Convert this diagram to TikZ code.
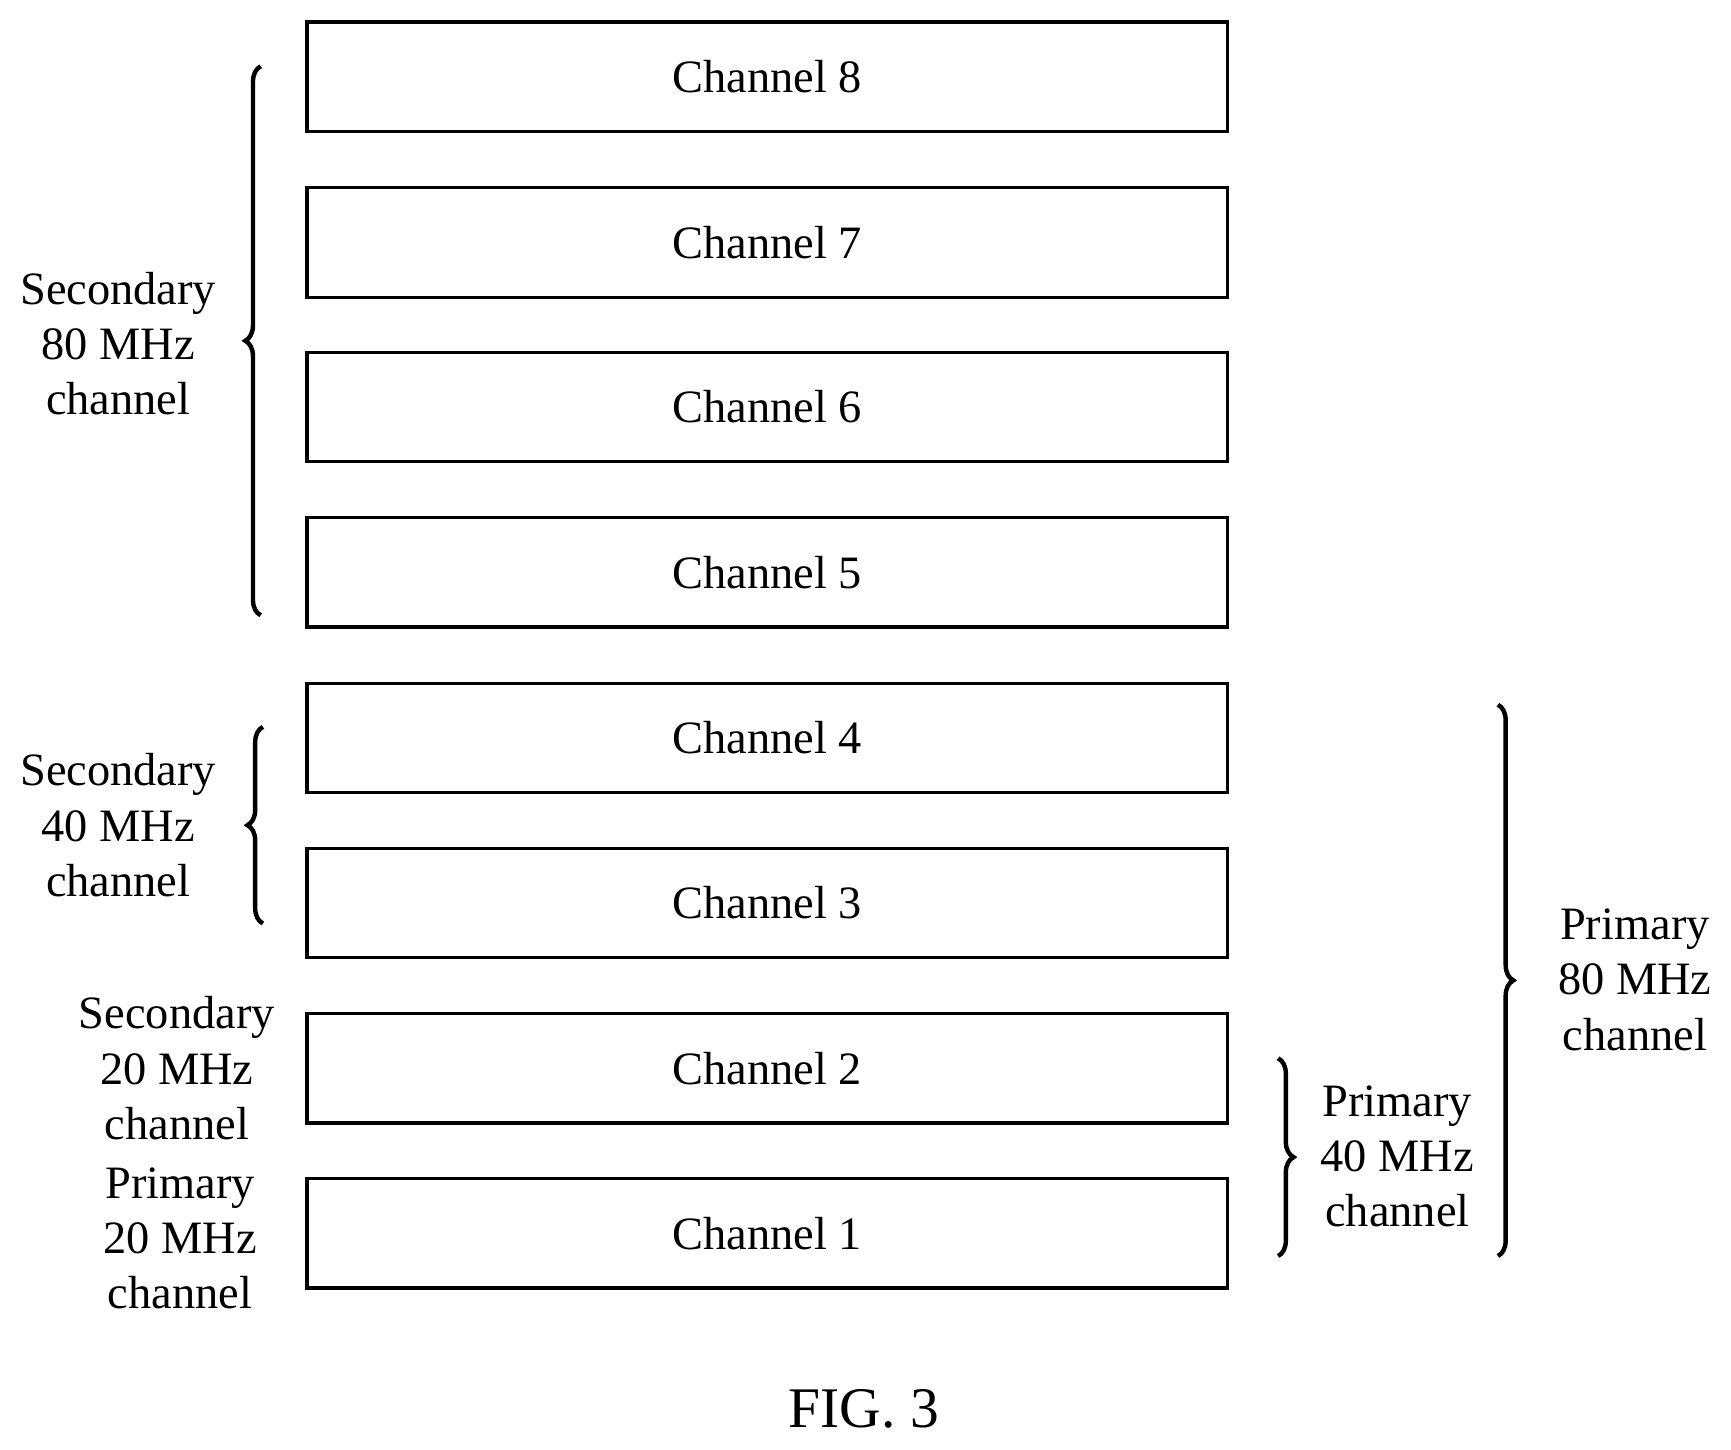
\documentclass[tikz,border=0pt]{standalone}
\usepackage{fontspec}
\setmainfont{Liberation Serif}
\usetikzlibrary{decorations.pathreplacing}
\begin{document}
\begin{tikzpicture}[x=0.5pt,y=-0.5pt,
 ch/.style={draw,line width=1.5pt,minimum width=416.5pt,minimum height=49.5pt,inner sep=0pt,font=\fontsize{21}{25}\selectfont},
 lab/.style={align=center,font=\fontsize{21}{25}\selectfont},
 br/.style={decorate,decoration={brace,amplitude=7pt},line width=2pt}]
\useasboundingbox (0,0) rectangle (1567,1312);
\foreach \i/\y in {8/69.5,7/219.5,6/368.5,5/518,4/668,3/817.5,2/967,1/1116.5}
  \node[ch] (c\i) at (694.5,\y) {Channel \i};
\coordinate (a1) at (236,557); \coordinate (a2) at (236,60);
\draw[br] (a1) -- (a2);
\node[lab] (s80) at (107,311) {Secondary\\80 MHz\\channel};
\coordinate (b1) at (238,836); \coordinate (b2) at (238,658);
\draw[br] (b1) -- (b2);
\node[lab] (s40) at (107,747) {Secondary\\40 MHz\\channel};
\node[lab] (s20) at (160,967) {Secondary\\20 MHz\\channel};
\node[lab] (p20) at (163,1121) {Primary\\20 MHz\\channel};
\coordinate (d1) at (1157,958); \coordinate (d2) at (1157,1137);
\draw[br] (d1) -- (d2);
\node[lab] (p40) at (1265,1047) {Primary\\40 MHz\\channel};
\coordinate (e1) at (1356,638); \coordinate (e2) at (1356,1137);
\draw[br] (e1) -- (e2);
\node[lab] (p80) at (1480,887) {Primary\\80 MHz\\channel};
\node[font=\fontsize{26}{30}\selectfont] (fig) at (782,1275) {FIG. 3};
\end{tikzpicture}
\end{document}
